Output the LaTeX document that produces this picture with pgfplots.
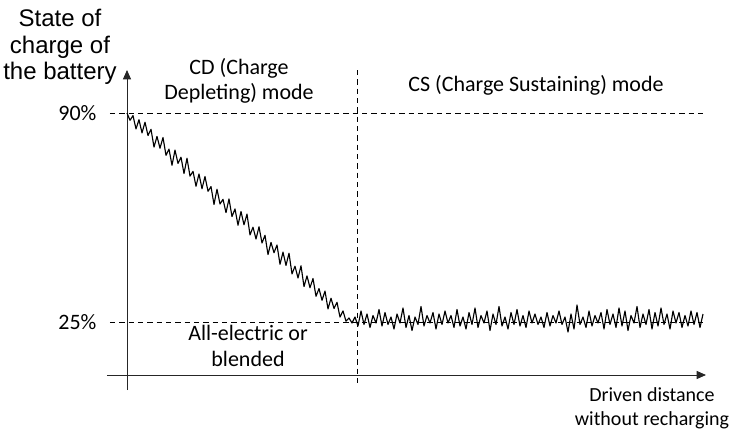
\documentclass[border=0pt]{standalone}
\usepackage{pgfplots}
\pgfplotsset{compat=1.18}
\usepackage{fontspec}
\setmainfont{Carlito}
\newfontfamily\arialfont{Liberation Sans}
\usetikzlibrary{arrows.meta}
\begin{document}
\begin{tikzpicture}
\fontsize{16.5}{19}\selectfont
\begin{axis}[
  scale only axis, width=449.25pt, height=240pt,
  xmin=-20, xmax=579, ymin=-15, ymax=305,
  axis lines=middle,
  axis line style={line width=0.7pt, black!85, -{Triangle[length=7pt,width=6pt]}},
  ticks=none, clip=false,
]
% reference lines
\addplot[black, line width=0.6pt, dash pattern=on 4pt off 3pt] coordinates {(-17,262) (578,262)};
\addplot[black, line width=0.6pt, dash pattern=on 4pt off 3pt] coordinates {(-17,53) (578,53)};
\addplot[black, line width=0.6pt, dash pattern=on 4pt off 3pt] coordinates {(230,305) (230,-12)};
% state of charge
\addplot[black, line width=0.85pt, line join=round] coordinates {
(0,262) (3,254.7) (6,259.4) (9,246.1) (12,255.3) (15,242.1) (18,252.8) (21,239.5) (24,245.7) (27,227.9)
(30,238.6) (33,226.8) (36,237.5) (39,219.7) (42,225.9) (45,209.7) (48,224.9) (51,211.6) (54,217.8) (57,201.5)
(60,216.7) (63,198.9) (66,203.6) (69,188.8) (72,201.0) (75,186.3) (78,198.5) (81,183.7) (84,188.4) (87,170.6)
(90,185.8) (93,171.0) (96,175.7) (99,162.4) (102,176.1) (105,158.4) (108,166.1) (111,149.8) (114,163.5) (117,150.2)
(120,160.9) (123,140.1) (126,147.8) (129,136.0) (132,148.2) (135,132.0) (138,139.7) (141,120.4) (144,132.6) (147,122.3)
(150,130.0) (153,110.7) (156,122.9) (159,109.6) (162,121.8) (165,101.1) (168,108.8) (171,97.0) (174,109.2) (177,88.4)
(180,99.1) (183,87.3) (186,96.5) (189,78.7) (192,86.4) (195,74.7) (198,83.9) (201,66.1) (204,76.8) (207,66.5)
(210,72.7) (213,57.9) (216,64.1) (219,53.8) (222,57.0) (225,52)
(228,58) (231,49) (234,64) (237,50.5) (240,61) (243,47.5) (246,59.5) (249,52) (252,65.5) (255,49)
(258,62.5) (261,50.5) (264,58) (267,46) (270,61) (273,52) (276,67) (279,47.5) (282,59.5) (285,44.5)
(288,58) (291,50.5) (294,68.5) (297,49) (300,59.5) (303,52) (306,62.5) (309,46) (312,61) (315,50.5)
(318,64) (321,52) (324,59.5) (327,47.5) (330,65.5) (333,49) (336,58) (339,46) (342,62.5) (345,50.5)
(348,67) (351,47.5) (354,59.5) (357,52) (360,64) (363,44.5) (366,61) (369,50.5) (372,68.5) (375,49)
(378,58) (381,46) (384,62.5) (387,50.5) (390,65.5) (393,49) (396,59.5) (399,47.5) (402,64) (405,52)
(408,61) (411,50.5) (414,58) (417,47.5) (420,62.5) (423,49) (426,59.5) (429,52) (432,64) (435,50.5)
(438,58) (441,43) (444,61) (447,46) (450,70) (453,50.5) (456,58) (459,47.5) (462,64) (465,49)
(468,59.5) (471,52) (474,62.5) (477,46) (480,65.5) (483,50.5) (486,61) (489,47.5) (492,67) (495,49)
(498,64) (501,44.5) (504,59.5) (507,52) (510,68.5) (513,47.5) (516,61) (519,50.5) (522,65.5) (525,46)
(528,62.5) (531,49) (534,67) (537,50.5) (540,61) (543,46) (546,64) (549,52) (552,62.5) (555,47.5)
(558,59.5) (561,49) (564,64) (567,50.5) (570,62.5) (573,47.5) (576,61)
};
% texts
\node[align=center, font=\arialfont\fontsize{18}{20}\selectfont] at (axis cs:-67,328) {State of\\charge of\\the battery};
\node[anchor=east] at (axis cs:-23,262) {90\%};
\node[anchor=east] at (axis cs:-23,53) {25\%};
\node[align=center] at (axis cs:112,294) {CD (Charge\\Depleting) mode};
\node at (axis cs:409,290) {CS (Charge Sustaining) mode};
\node[align=center] at (axis cs:121,29) {All-electric or\\blended};
\node[align=center, font=\fontsize{15}{18}\selectfont] at (axis cs:525,-33) {Driven distance\\without recharging};
\coordinate (bbA) at (axis cs:-127,375);
\coordinate (bbB) at (axis cs:603,-54);
\end{axis}
\pgfresetboundingbox
\path[use as bounding box] (bbA) rectangle (bbB);
\end{tikzpicture}
\end{document}
